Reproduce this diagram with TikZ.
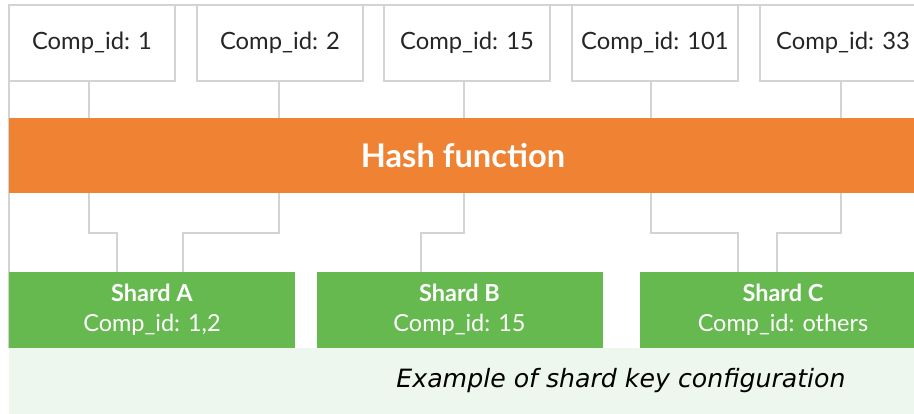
\documentclass[tikz,border=0pt]{standalone}
\usepackage{fontspec}
\newfontfamily\lato{Lato}
\newfontfamily\dejavu{DejaVu Sans}
\definecolor{hashorange}{HTML}{F08233}
\definecolor{shardgreen}{HTML}{65B94F}
\definecolor{notegreen}{HTML}{EDF7ED}
\definecolor{wiregray}{HTML}{D3D3D3}
\begin{document}
\begin{tikzpicture}[x=1pt, y=-1pt,
    idbox/.style={draw=wiregray, line width=1.2pt, fill=white, inner sep=0pt,
        minimum width=166pt, minimum height=76pt, text=black!85,
        font=\lato\fontsize{23.8}{28}\selectfont},
    shardbox/.style={fill=shardgreen, inner sep=0pt, minimum width=286pt,
        minimum height=76pt, text=white, align=center,
        font=\lato\fontsize{23.5}{30}\selectfont},
    wire/.style={wiregray, line width=1.2pt}]
    \useasboundingbox (0,0) rectangle (914,414);
    % caption strip and outer frame
    \fill[notegreen] (9,348) rectangle (914,414);
    \draw[wire] (9,348) -- (9,5) -- (914,5);
    % keys on top
    \node[idbox] (c1) at (92,43)  {Comp\_id: 1};
    \node[idbox] (c2) at (280,43) {Comp\_id: 2};
    \node[idbox] (c3) at (467,43) {Comp\_id: 15};
    \node[idbox] (c4) at (655,43) {Comp\_id: 101};
    \node[idbox] (c5) at (843,43) {Comp\_id: 33};
    % hash bar
    \node[fill=hashorange, minimum width=908pt, minimum height=75pt, inner sep=0pt,
        text=white, font=\lato\bfseries\fontsize{32.6}{36}\selectfont]
        (hash) at (463,155.5) {Hash function};
    % shards
    \node[shardbox] (sa) at (152,310)   {\textbf{Shard A}\\Comp\_id: 1,2};
    \node[shardbox] (sb) at (459.5,310) {\textbf{Shard B}\\Comp\_id: 15};
    \node[shardbox] (sc) at (783,310)   {\textbf{Shard C}\\Comp\_id: others};
    % wires: key -> hash -> shard
    \foreach \k/\x/\s/\e in {c1/89/sa/117, c2/279/sa/183, c3/464/sb/421,
                             c4/651/sc/738, c5/841/sc/777} {
        \draw[wire] (\k.south -| \x,0) -- (hash.north -| \x,0);
        \draw[wire] (hash.south -| \x,0) -- (\x,233) -| (\s.north -| \e,0);
    }
    \node[font=\dejavu\itshape\fontsize{25.2}{30}\selectfont] (note) at (621,381)
        {Example of shard key configuration};
\end{tikzpicture}
\end{document}
